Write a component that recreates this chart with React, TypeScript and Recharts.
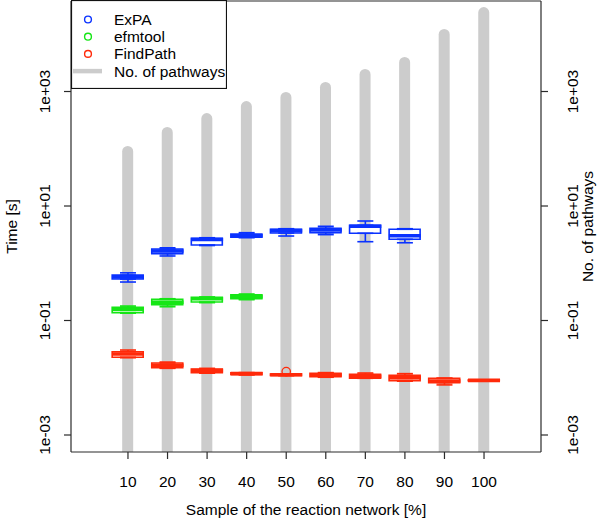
import React from "react";
import {
  ComposedChart,
  Bar,
  Scatter,
  XAxis,
  YAxis,
  ErrorBar,
  Legend,
  Label,
} from "recharts";

const FONT = '"Liberation Sans", Arial, Helvetica, sans-serif';
const BLUE = "#0a32ff";
const GREEN = "#16e616";
const RED = "#ff2a0a";
const GREY = "#cccccc";
const INK = "#2a2a2a";

const samples = [10, 20, 30, 40, 50, 60, 70, 80, 90, 100];
const pathways = [112, 240, 421, 682, 980, 1466, 2472, 4010, 12360, 29900];

// one row per sample: [min, q1, median, q3, max]
const expaBoxes = [
  [0.47, 0.53, 0.575, 0.62, 0.68],
  [1.34, 1.47, 1.64, 1.77, 1.86],
  [2.04, 2.08, 2.6, 2.73, 2.79],
  [2.8, 2.84, 3.03, 3.24, 3.42],
  [2.99, 3.37, 3.71, 3.92, 4.01],
  [3.16, 3.42, 3.81, 4.07, 4.42],
  [2.38, 3.34, 4.42, 4.61, 5.47],
  [2.28, 2.62, 3.03, 3.92, 4.01],
];
const efmtoolBoxes = [
  [0.134, 0.137, 0.157, 0.17, 0.179],
  [0.174, 0.189, 0.208, 0.234, 0.24],
  [0.205, 0.21, 0.24, 0.254, 0.257],
  [0.231, 0.24, 0.261, 0.282, 0.29],
];
const findPathBoxes = [
  [0.0224, 0.0228, 0.026, 0.0285, 0.0305],
  [0.0146, 0.015, 0.0165, 0.0181, 0.0188],
  [0.012, 0.0123, 0.0133, 0.0142, 0.0146],
  [0.0112, 0.0114, 0.0118, 0.0122, 0.0123],
  [0.0109, 0.011, 0.0113, 0.0116, 0.0117],
  [0.0102, 0.0104, 0.0112, 0.012, 0.0123],
  [0.0098, 0.0098, 0.0106, 0.0115, 0.0121],
  [0.0087, 0.0089, 0.01, 0.011, 0.0118],
  [0.0075, 0.0082, 0.0088, 0.0098, 0.0098],
  [0.0088, 0.0089, 0.009, 0.0091, 0.0092],
];
const findPathOutliers = [{ x: 50, y: 0.0128 }];

const yTicks = [1e-3, 1e-1, 1e1, 1e3];
const Y_DOMAIN: [number, number] = [Math.pow(10, -3.297), Math.pow(10, 4.581)];
const X_DOMAIN: [number, number] = [-4.4, 114.4];

const rows = samples.map((x, i) => ({
  x,
  pathways: pathways[i],
  expa: expaBoxes[i] ?? null,
  efmtool: efmtoolBoxes[i] ?? null,
  findPath: findPathBoxes[i] ?? null,
}));

const legendItems = [
  { name: "ExPA", color: BLUE, kind: "circle" },
  { name: "efmtool", color: GREEN, kind: "circle" },
  { name: "FindPath", color: RED, kind: "circle" },
  { name: "No. of pathways", color: GREY, kind: "line" },
];

const sci = (v: number) => {
  const e = Math.round(Math.log10(v));
  return `1e${e < 0 ? "-" : "+"}${String(Math.abs(e)).padStart(2, "0")}`;
};

const RotTick = (props: any) => {
  const { x, y, payload } = props;
  return (
    <text
      x={x}
      y={y}
      transform={`rotate(-90 ${x} ${y})`}
      textAnchor="middle"
      fontSize={15.5}
      fontFamily={FONT}
      fill="#000"
    >
      {sci(payload.value)}
    </text>
  );
};

const sideTitle = (text: string, dx: number) => (p: any) => {
  const vb = p.viewBox;
  const cx = vb.x + dx;
  const cy = vb.y + vb.height / 2;
  return (
    <text
      x={cx}
      y={cy}
      transform={`rotate(-90 ${cx} ${cy})`}
      textAnchor="middle"
      fontSize={15.5}
      fontFamily={FONT}
      fill="#000"
    >
      {text}
    </text>
  );
};

const LegendBox = () => (
  <svg width={156} height={89} style={{ display: "block" }}>
    <rect x={0.5} y={0.5} width={155} height={88} fill="#fff" stroke="#111" strokeWidth={1.2} />
    {legendItems.map((it, i) => {
      const cy = 19.5 + i * 17.2;
      return (
        <g key={it.name}>
          {it.kind === "circle" ? (
            <circle cx={17} cy={cy} r={3.4} fill="none" stroke={it.color} strokeWidth={1.4} />
          ) : (
            <line x1={2} x2={31} y1={cy} y2={cy} stroke={it.color} strokeWidth={4.5} />
          )}
          <text x={43} y={cy + 5.5} fontSize={15.5} fontFamily={FONT} fill="#000">
            {it.name}
          </text>
        </g>
      );
    })}
  </svg>
);

const medianShape = (color: string) => (p: any) => (
  <line x1={p.cx - 16} x2={p.cx + 16} y1={p.cy} y2={p.cy} stroke={color} strokeWidth={3.6} />
);
const noShape = () => <g />;

function boxSeries(key: string, boxes: number[][], color: string, axisId: string) {
  const med = boxes.map((b, i) => ({ x: samples[i], y: b[2] }));
  const up = boxes.map((b, i) => ({ x: samples[i], y: b[3], err: [0, b[4] - b[3]] }));
  const low = boxes.map((b, i) => ({ x: samples[i], y: b[1], err: [b[1] - b[0], 0] }));
  return [
    <Bar
      key={key + "-box"}
      xAxisId={axisId}
      dataKey={(d: any) => (d[key] ? [d[key][1], d[key][3]] : null)}
      fill="#fff"
      stroke={color}
      strokeWidth={1.6}
      barSize={31}
      isAnimationActive={false}
    />,
    <Scatter key={key + "-up"} xAxisId="x" data={up} dataKey="y" shape={noShape} isAnimationActive={false}>
      <ErrorBar dataKey="err" direction="y" width={8} stroke={color} strokeWidth={1.6} />
    </Scatter>,
    <Scatter key={key + "-low"} xAxisId="x" data={low} dataKey="y" shape={noShape} isAnimationActive={false}>
      <ErrorBar dataKey="err" direction="y" width={8} stroke={color} strokeWidth={1.6} />
    </Scatter>,
    <Scatter
      key={key + "-med"}
      xAxisId="x"
      data={med}
      dataKey="y"
      shape={medianShape(color)}
      isAnimationActive={false}
    />,
  ];
}

export default function App() {
  return (
    <div style={{ position: "absolute", left: 0, top: 0, background: "#fff" }}>
      <ComposedChart width={600} height={527} data={rows} margin={{ top: 0, right: 0, bottom: 0, left: 0 }}>
        <XAxis
          xAxisId="x"
          type="number"
          dataKey="x"
          domain={X_DOMAIN}
          allowDataOverflow
          ticks={samples}
          interval={0}
          height={75}
          tickSize={7}
          tickMargin={17}
          stroke={INK}
          strokeWidth={1.2}
          tick={{ fill: "#000", fontSize: 15.5, fontFamily: FONT }}
        >
          <Label
            content={(p: any) => (
              <text
                x={p.viewBox.x + p.viewBox.width / 2}
                y={p.viewBox.y + 63}
                textAnchor="middle"
                fontSize={15.5}
                fontFamily={FONT}
                fill="#000"
              >
                Sample of the reaction network [%]
              </text>
            )}
          />
        </XAxis>
        <XAxis xAxisId="top" orientation="top" type="number" dataKey="x" domain={X_DOMAIN} height={1} tick={false} tickLine={false} stroke={INK} strokeWidth={1.2} />
        <XAxis xAxisId="b1" orientation="top" type="number" dataKey="x" domain={X_DOMAIN} allowDataOverflow height={0} hide />
        <XAxis xAxisId="b2" orientation="top" type="number" dataKey="x" domain={X_DOMAIN} allowDataOverflow height={0} hide />
        <XAxis xAxisId="b3" orientation="top" type="number" dataKey="x" domain={X_DOMAIN} allowDataOverflow height={0} hide />
        <YAxis
          scale="log"
          type="number"
          domain={Y_DOMAIN}
          allowDataOverflow
          ticks={yTicks}
          interval={0}
          width={71}
          tickSize={7}
          tickMargin={14}
          stroke={INK}
          strokeWidth={1.2}
          tick={RotTick}
        >
          <Label content={sideTitle("Time [s]", 17)} />
        </YAxis>
        <YAxis
          yAxisId="r"
          orientation="right"
          scale="log"
          type="number"
          domain={Y_DOMAIN}
          allowDataOverflow
          ticks={yTicks}
          interval={0}
          width={59}
          tickSize={7}
          tickMargin={30}
          stroke={INK}
          strokeWidth={1.2}
          tick={RotTick}
        >
          <Label content={sideTitle("No. of pathways", 52)} />
        </YAxis>
        <Bar
          xAxisId="x"
          dataKey={(d: any) => [Y_DOMAIN[0], d.pathways]}
          fill={GREY}
          barSize={11}
          radius={[5.5, 5.5, 0, 0]}
          isAnimationActive={false}
        />
        {boxSeries("expa", expaBoxes, BLUE, "b1")}
        {boxSeries("efmtool", efmtoolBoxes, GREEN, "b2")}
        {boxSeries("findPath", findPathBoxes, RED, "b3")}
        <Scatter
          xAxisId="x"
          data={findPathOutliers}
          dataKey="y"
          shape={(p: any) => <circle cx={p.cx} cy={p.cy} r={4.2} fill="none" stroke={RED} strokeWidth={1.3} />}
          isAnimationActive={false}
        />
        <Legend
          layout="vertical"
          align="center"
          verticalAlign="middle"
          wrapperStyle={{ left: 71, top: 0, width: 156, height: 89 }}
          content={() => <LegendBox />}
        />
      </ComposedChart>
    </div>
  );
}
